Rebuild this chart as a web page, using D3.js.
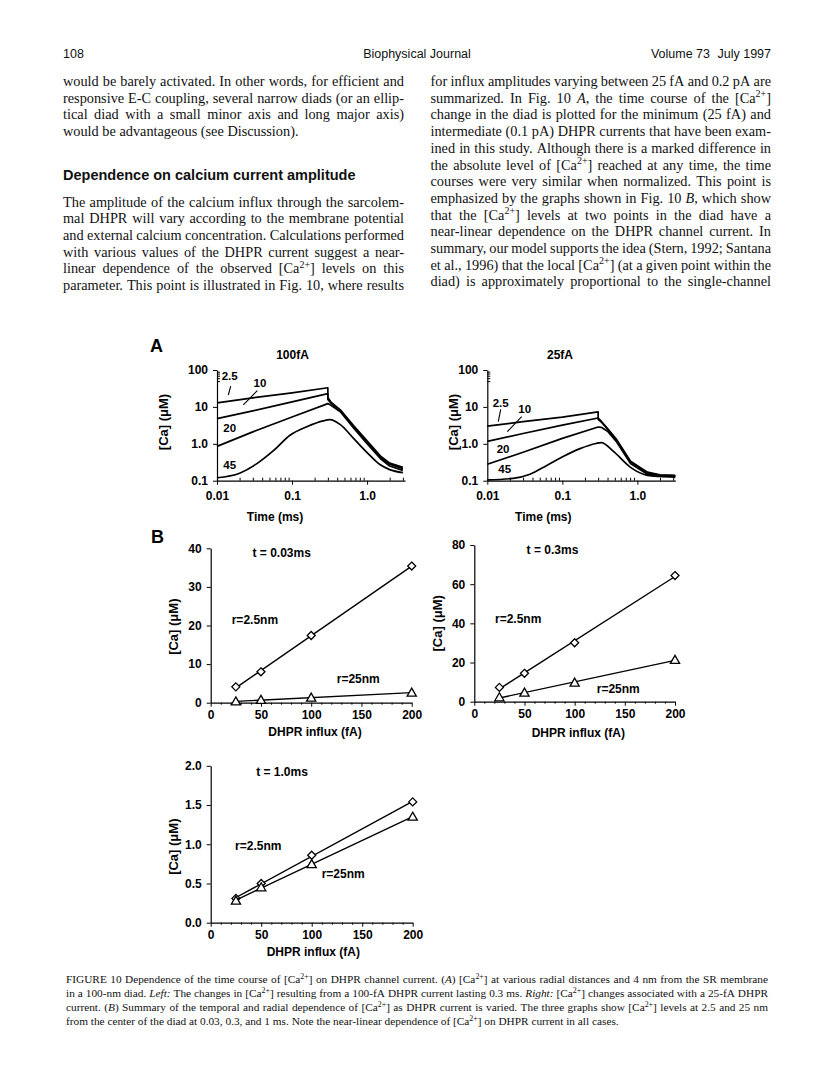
<!DOCTYPE html>
<html>
<head>
<meta charset="utf-8">
<script src="https://cdn.jsdelivr.net/npm/d3@7"></script>
<style>
  body { margin: 0; background: #fff; }
  svg { display: block; }
</style>
</head>
<body>
<script>
const W = 816, H = 1078
const serif = '"Liberation Serif", "Times New Roman", serif'
const sans = '"Liberation Sans", Arial, Helvetica, sans-serif'

// ---------------Page text---------------
const leftColTop = [
  'would be barely activated. In other words, for efficient and',
  'responsive E-C coupling, several narrow diads (or an ellip-',
  'tical diad with a small minor axis and long major axis)',
  'would be advantageous (see Discussion).'
]
const heading = 'Dependence on calcium current amplitude'
const leftColBottom = [
  'The amplitude of the calcium influx through the sarcolem-',
  'mal DHPR will vary according to the membrane potential',
  'and external calcium concentration. Calculations performed',
  'with various values of the DHPR current suggest a near-',
  'linear dependence of the observed [Ca^2+^] levels on this',
  'parameter. This point is illustrated in Fig. 10, where results'
]
const rightCol = [
  'for influx amplitudes varying between 25 fA and 0.2 pA are',
  'summarized. In Fig. 10 *A*, the time course of the [Ca^2+^]',
  'change in the diad is plotted for the minimum (25 fA) and',
  'intermediate (0.1 pA) DHPR currents that have been exam-',
  'ined in this study. Although there is a marked difference in',
  'the absolute level of [Ca^2+^] reached at any time, the time',
  'courses were very similar when normalized. This point is',
  'emphasized by the graphs shown in Fig. 10 *B*, which show',
  'that the [Ca^2+^] levels at two points in the diad have a',
  'near-linear dependence on the DHPR channel current. In',
  'summary, our model supports the idea (Stern, 1992; Santana',
  'et al., 1996) that the local [Ca^2+^] (at a given point within the',
  'diad) is approximately proportional to the single-channel'
]
const caption = [
  'FIGURE 10  Dependence of the time course of [Ca^2+^] on DHPR channel current. (*A*) [Ca^2+^] at various radial distances and 4 nm from the SR membrane',
  'in a 100-nm diad. *Left:* The changes in [Ca^2+^] resulting from a 100-fA DHPR current lasting 0.3 ms. *Right:* [Ca^2+^] changes associated with a 25-fA DHPR',
  'current. (*B*) Summary of the temporal and radial dependence of [Ca^2+^] as DHPR current is varied. The three graphs show [Ca^2+^] levels at 2.5 and 25 nm',
  'from the center of the diad at 0.03, 0.3, and 1 ms. Note the near-linear dependence of [Ca^2+^] on DHPR current in all cases.'
]

// ---------------Panel A data: [time (ms), Ca (uM)]---------------
const a100_r2p5 = [[0.01,12.9],[0.03,17.6],[0.1,24],[0.3,33],[0.3,18],[0.33,13.5],[0.44,8.3],[0.66,3.1],[1.0,1.2],[1.5,0.47],[2.0,0.3],[3.0,0.23]]
const a100_r10 = [[0.01,4.8],[0.03,7.8],[0.1,13.7],[0.3,23],[0.3,16],[0.33,12.5],[0.44,7.9],[0.66,2.9],[1.0,1.1],[1.5,0.44],[2.0,0.28],[3.0,0.21]]
const a100_r20 = [[0.01,0.85],[0.03,2.1],[0.1,5.3],[0.3,12.3],[0.33,11],[0.44,7.4],[0.66,2.7],[1.0,1.0],[1.5,0.4],[2.0,0.25],[3.0,0.19]]
const a100_r45 = [[0.01,0.12],[0.02,0.16],[0.034,0.29],[0.057,0.66],[0.094,1.7],[0.157,2.9],[0.26,4.2],[0.32,4.5],[0.44,3.3],[0.66,1.4],[1.0,0.58],[1.5,0.27],[2.0,0.2],[3.0,0.165]]

const a25_r2p5 = [[0.01,3.0],[0.03,4.0],[0.1,5.3],[0.3,7.3],[0.3,5.0],[0.33,4.1],[0.4,2.6],[0.53,1.3],[0.81,0.34],[1.36,0.17],[2.0,0.145],[3.2,0.14]]
const a25_r10 = [[0.01,1.16],[0.03,1.9],[0.1,3.2],[0.3,5.0],[0.3,4.6],[0.33,3.9],[0.4,2.5],[0.53,1.22],[0.81,0.32],[1.36,0.16],[2.0,0.14],[3.2,0.135]]
const a25_r20 = [[0.01,0.28],[0.03,0.59],[0.1,1.4],[0.3,2.85],[0.33,2.8],[0.4,2.2],[0.53,1.12],[0.81,0.29],[1.36,0.15],[2.0,0.135],[3.2,0.13]]
const a25_r45 = [[0.01,0.105],[0.022,0.115],[0.037,0.15],[0.062,0.26],[0.104,0.46],[0.172,0.74],[0.28,1.02],[0.33,1.08],[0.48,0.62],[0.81,0.23],[1.36,0.14],[2.0,0.13],[3.2,0.125]]

const timeDomain = [0.01, 3.2]
const caDomain = [0.1, 100]
const timeTicks = [0.01, 0.1, 1]
const timeTickLabels = ['0.01', '0.1', '1.0']
const timeMinor = [0.02,0.03,0.04,0.05,0.06,0.07,0.08,0.09,0.2,0.3,0.4,0.5,0.6,0.7,0.8,0.9,2,3]
const caTicks = [0.1, 1, 10, 100]
const caTickLabels = ['0.1', '1.0', '10', '100']
const caMinor = [50, 60, 70, 80, 90]

// curve labels, in data coordinates [t, Ca]
const labels100 = [['2.5', 0.01155, 68.7, 'start'], ['10', 0.0374, 44.4, 'middle'], ['20', 0.01213, 2.63, 'start'], ['45', 0.01213, 0.266, 'start']]
const pointers100 = [[[0.01415, 21], [0.01522, 36.8]], [[0.0224, 11.3], [0.0344, 27.5]]]
const labels25 = [['2.5', 0.0118, 12.5, 'start'], ['10', 0.0259, 8.6, 'start'], ['20', 0.01334, 0.71, 'start'], ['45', 0.01402, 0.204, 'start']]
const pointers25 = [[[0.01402, 3.97], [0.01509, 8.6]], [[0.01847, 2.13], [0.0287, 5.43]]]

// ---------------Panel B data---------------
const influx = [25, 50, 100, 200]
const b003_r2p5 = [4.1, 8.0, 17.4, 35.4]
const b003_r25 = [0.3, 0.7, 1.3, 2.6]
const b03_r2p5 = [7.3, 14.5, 30.1, 64.4]
const b03_r25 = [2.2, 4.6, 9.7, 21.3]
const b1_r2p5 = [0.31, 0.50, 0.86, 1.54]
const b1_r25 = [0.28, 0.45, 0.745, 1.35]

const svg = d3.select('body').append('svg')
  .attr('width', W)
  .attr('height', H)

// ---------------Rich text helpers---------------
function addRich(text, str, fs) {
  const parts = str.split(/(\^[^^]+\^|\*[^*]+\*)/).filter(s => s.length)
  let raised = false
  parts.forEach(p => {
    const t = text.append('tspan')
    if (p[0] === '^') {
      t.text(p.slice(1, -1)).attr('dy', -0.38 * fs).attr('font-size', fs * 0.7)
      raised = true
    } else {
      if (p[0] === '*') t.text(p.slice(1, -1)).attr('font-style', 'italic')
      else t.text(p)
      if (raised) { t.attr('dy', 0.38 * fs); raised = false }
    }
  })
}

function setLine(g, x, y, width, str, fs, justify) {
  const words = str.split(' ').filter(w => w.length)
  const nodes = words.map(w => {
    const t = g.append('text')
      .attr('y', y)
      .attr('font-family', serif)
      .attr('font-size', fs)
      .attr('fill', '#111')
    addRich(t, w, fs)
    return t
  })
  const widths = nodes.map(t => t.node().getComputedTextLength())
  const total = d3.sum(widths)
  let gap = justify && words.length > 1 ? (width - total) / (words.length - 1) : fs * 0.25
  // squeeze letters a little when a line is too long for its measure
  let squeeze = 1
  if (gap < fs * 0.16) {
    gap = fs * 0.16
    squeeze = (width - gap * (words.length - 1)) / total
  }
  let cx = x
  nodes.forEach((t, i) => {
    t.attr('x', cx)
    if (squeeze < 1) t.attr('textLength', widths[i] * squeeze).attr('lengthAdjust', 'spacingAndGlyphs')
    cx += widths[i] * squeeze + gap
  })
}

function column(lines, x, y0, width, pitch, fs, lastLoose) {
  const g = svg.append('g')
  lines.forEach((l, i) => {
    const justify = !(lastLoose && i === lines.length - 1)
    setLine(g, x, y0 + i * pitch, width, l, fs, justify)
  })
}

// ---------------Header---------------
const hdr = svg.append('g')
  .attr('font-family', sans)
  .attr('font-size', 12.5)
  .attr('fill', '#111')
hdr.append('text').attr('x', 63).attr('y', 58).text('108')
hdr.append('text').attr('x', 417).attr('y', 58).attr('text-anchor', 'middle').text('Biophysical Journal')
hdr.append('text').attr('x', 771).attr('y', 58).attr('text-anchor', 'end').text('July 1997')
hdr.append('text').attr('x', 710).attr('y', 58).attr('text-anchor', 'end').text('Volume 73')

// ---------------Body text---------------
const bodyFs = 14.3
const pitch = 16.7
column(leftColTop, 63, 86, 341, pitch, bodyFs, true)
svg.append('text')
  .attr('x', 63).attr('y', 180)
  .attr('font-family', sans)
  .attr('font-weight', 'bold')
  .attr('font-size', 14.5)
  .attr('fill', '#111')
  .text(heading)
column(leftColBottom, 63, 206.5, 341, pitch, bodyFs, false)
column(rightCol, 430.5, 86, 340.5, pitch, bodyFs, false)
column(caption, 66, 983, 702, 14, 11.3, true)

// ---------------Panel A: log-log time courses---------------
function styleAxis(sel, fs) {
  sel.select('.domain').attr('stroke', '#000').attr('stroke-width', 1.2)
  sel.selectAll('.tick line').attr('stroke', '#000').attr('stroke-width', 1)
  sel.selectAll('.tick text')
    .attr('font-family', sans)
    .attr('font-weight', 'bold')
    .attr('font-size', fs)
    .attr('fill', '#000')
}

function logPanel(p) {
  const x = d3.scaleLog().domain(timeDomain).range([p.x0, p.x0 + 188])
  const y = d3.scaleLog().domain(caDomain).range([480.7, 370])
  const g = svg.append('g')

  g.append('g')
    .attr('transform', `translate(0,${y(0.1)})`)
    .call(d3.axisBottom(x).tickValues(timeMinor).tickFormat('').tickSizeInner(-3).tickSizeOuter(0))
    .call(s => s.select('.domain').remove())
    .call(s => s.selectAll('line').attr('stroke', '#000'))
  g.append('g')
    .attr('transform', `translate(${x(0.01)},0)`)
    .call(d3.axisLeft(y).tickValues(caMinor).tickFormat('').tickSizeInner(-3).tickSizeOuter(0))
    .call(s => s.select('.domain').remove())
    .call(s => s.selectAll('line').attr('stroke', '#000'))

  g.append('g')
    .attr('transform', `translate(0,${y(0.1)})`)
    .call(d3.axisBottom(x).tickValues(timeTicks).tickFormat((d, i) => timeTickLabels[i]).tickSizeInner(4).tickSizeOuter(0).tickPadding(7))
    .call(s => styleAxis(s, 12))
  g.append('g')
    .attr('transform', `translate(${x(0.01)},0)`)
    .call(d3.axisLeft(y).tickValues(caTicks).tickFormat((d, i) => caTickLabels[i]).tickSizeInner(4).tickSizeOuter(0).tickPadding(5))
    .call(s => styleAxis(s, 12))

  const line = d3.line().x(d => x(d[0])).y(d => y(d[1]))
  p.curves.forEach(c => {
    g.append('path')
      .attr('d', line.curve(c.smooth ? d3.curveMonotoneX : d3.curveLinear)(c.data))
      .attr('fill', 'none')
      .attr('stroke', '#000')
      .attr('stroke-width', 1.7)
      .attr('stroke-linejoin', 'round')
  })

  p.labels.forEach(l => {
    g.append('text')
      .attr('x', x(l[1])).attr('y', y(l[2]))
      .attr('dy', '0.35em')
      .attr('text-anchor', l[3])
      .attr('font-family', sans).attr('font-weight', 'bold').attr('font-size', 11.5)
      .text(l[0])
  })
  p.pointers.forEach(pt => {
    g.append('path')
      .attr('d', d3.line().x(d => x(d[0])).y(d => y(d[1]))(pt))
      .attr('stroke', '#000').attr('stroke-width', 1.1)
  })

  g.append('text')
    .attr('x', p.titleX).attr('y', 359)
    .attr('text-anchor', 'middle')
    .attr('font-family', sans).attr('font-weight', 'bold').attr('font-size', 12)
    .text(p.title)
  g.append('text')
    .attr('x', p.xTitleX).attr('y', 521)
    .attr('text-anchor', 'middle')
    .attr('font-family', sans).attr('font-weight', 'bold').attr('font-size', 12)
    .text('Time (ms)')
  g.append('text')
    .attr('transform', `translate(${p.yTitleX},422) rotate(-90)`)
    .attr('dy', '0.35em')
    .attr('text-anchor', 'middle')
    .attr('font-family', sans).attr('font-weight', 'bold').attr('font-size', 13)
    .text('[Ca] (\u03bcM)')
}

logPanel({
  x0: 217, title: '100fA', titleX: 292.5, xTitleX: 275, yTitleX: 163.5,
  curves: [{ data: a100_r2p5 }, { data: a100_r10 }, { data: a100_r20 }, { data: a100_r45, smooth: true }],
  labels: labels100, pointers: pointers100
})
logPanel({
  x0: 487.3, title: '25fA', titleX: 560, xTitleX: 543.3, yTitleX: 453.3,
  curves: [{ data: a25_r2p5 }, { data: a25_r10 }, { data: a25_r20 }, { data: a25_r45, smooth: true }],
  labels: labels25, pointers: pointers25
})

svg.append('text').attr('x', 150).attr('y', 351.5)
  .attr('font-family', sans).attr('font-weight', 'bold').attr('font-size', 18).text('A')
svg.append('text').attr('x', 151).attr('y', 543)
  .attr('font-family', sans).attr('font-weight', 'bold').attr('font-size', 18).text('B')

// ---------------Panel B: linear dependence on influx---------------
const diamond = 'M0,-4L4,0L0,4L-4,0Z'
const triangle = 'M0,-4.6L4.6,3.4L-4.6,3.4Z'

function fitLine(xs, ys) {
  const mx = d3.mean(xs), my = d3.mean(ys)
  const b = d3.sum(xs, (v, i) => (v - mx) * (ys[i] - my)) / d3.sum(xs, v => (v - mx) * (v - mx))
  const a = my - b * mx
  const x0 = d3.min(xs), x1 = d3.max(xs)
  return [[x0, a + b * x0], [x1, a + b * x1]]
}

function linPanel(p) {
  const x = d3.scaleLinear().domain([0, 200]).range([p.x0, p.x1])
  const y = d3.scaleLinear().domain(p.yDomain).range([p.yb, p.yt])
  const g = svg.append('g')

  g.append('g')
    .attr('transform', `translate(0,${p.yb})`)
    .call(d3.axisBottom(x).tickValues(d3.range(10, 200, 10).filter(v => v % 50)).tickFormat('').tickSizeInner(2).tickSizeOuter(0))
    .call(s => s.select('.domain').remove())
    .call(s => s.selectAll('line').attr('stroke', '#000'))
  g.append('g')
    .attr('transform', `translate(0,${p.yb})`)
    .call(d3.axisBottom(x).tickValues([0, 50, 100, 150, 200]).tickSizeInner(4).tickSizeOuter(0).tickPadding(p.xPad))
    .call(s => styleAxis(s, 12))
  g.append('g')
    .attr('transform', `translate(${p.x0},0)`)
    .call(d3.axisLeft(y).tickValues(p.yTicks).tickFormat(p.yFormat).tickSizeInner(4).tickSizeOuter(0).tickPadding(5))
    .call(s => styleAxis(s, 12))

  const line = d3.line().x(d => x(d[0])).y(d => y(d[1]))
  ;[[p.r2p5, diamond], [p.r25, triangle]].forEach(([vals, shape]) => {
    g.append('path')
      .attr('d', line(fitLine(influx, vals)))
      .attr('stroke', '#000').attr('stroke-width', 1.4).attr('fill', 'none')
    g.selectAll(null)
      .data(influx.map((v, i) => [v, vals[i]]))
      .enter().append('path')
      .attr('transform', d => `translate(${x(d[0])},${y(d[1])})`)
      .attr('d', shape)
      .attr('fill', '#fff').attr('stroke', '#000').attr('stroke-width', 1.3)
  })

  const txt = (s, xv, yv, anchor) => g.append('text')
    .attr('x', x(xv)).attr('y', y(yv)).attr('dy', '0.35em')
    .attr('text-anchor', anchor)
    .attr('font-family', sans).attr('font-weight', 'bold').attr('font-size', 12)
    .text(s)
  txt(p.title, p.titlePos[0], p.titlePos[1], 'middle')
  txt('r=2.5nm', p.lab1[0], p.lab1[1], 'start')
  txt('r=25nm', p.lab2[0], p.lab2[1], 'start')

  g.append('text')
    .attr('x', p.xTitle[0]).attr('y', p.xTitle[1])
    .attr('dy', '0.35em')
    .attr('text-anchor', 'middle')
    .attr('font-family', sans).attr('font-weight', 'bold').attr('font-size', 12)
    .text('DHPR influx (fA)')
  g.append('text')
    .attr('transform', `translate(${p.yTitle[0]},${p.yTitle[1]}) rotate(-90)`)
    .attr('dy', '0.35em')
    .attr('text-anchor', 'middle')
    .attr('font-family', sans).attr('font-weight', 'bold').attr('font-size', 13)
    .text('[Ca] (\u03bcM)')
}

linPanel({
  x0: 210.7, x1: 411.7, yb: 702.7, yt: 548.3, yDomain: [0, 40], yTicks: [0, 10, 20, 30, 40], yFormat: d3.format('d'),
  xPad: 4, r2p5: b003_r2p5, r25: b003_r25,
  title: 't = 0.03ms', titlePos: [70.6, 38.9], lab1: [20.9, 21.6], lab2: [125.4, 6.3],
  xTitle: [315, 731.7], yTitle: [173.3, 626.7]
})
linPanel({
  x0: 474.3, x1: 675, yb: 701.7, yt: 545, yDomain: [0, 80], yTicks: [0, 20, 40, 60, 80], yFormat: d3.format('d'),
  xPad: 3.5, r2p5: b03_r2p5, r25: b03_r25,
  title: 't = 0.3ms', titlePos: [77.9, 77.8], lab1: [20.6, 42.1], lab2: [122, 6.8],
  xTitle: [578.3, 732.7], yTitle: [437.3, 623.3]
})
linPanel({
  x0: 210.7, x1: 412.7, yb: 922.7, yt: 765.8, yDomain: [0, 2], yTicks: [0, 0.5, 1, 1.5, 2], yFormat: d3.format('.1f'),
  xPad: 4, r2p5: b1_r2p5, r25: b1_r25,
  title: 't = 1.0ms', titlePos: [70.6, 1.92], lab1: [24.1, 0.978], lab2: [109.9, 0.62],
  xTitle: [313.3, 951.7], yTitle: [173.3, 846.7]
})
</script>
</body>
</html>
